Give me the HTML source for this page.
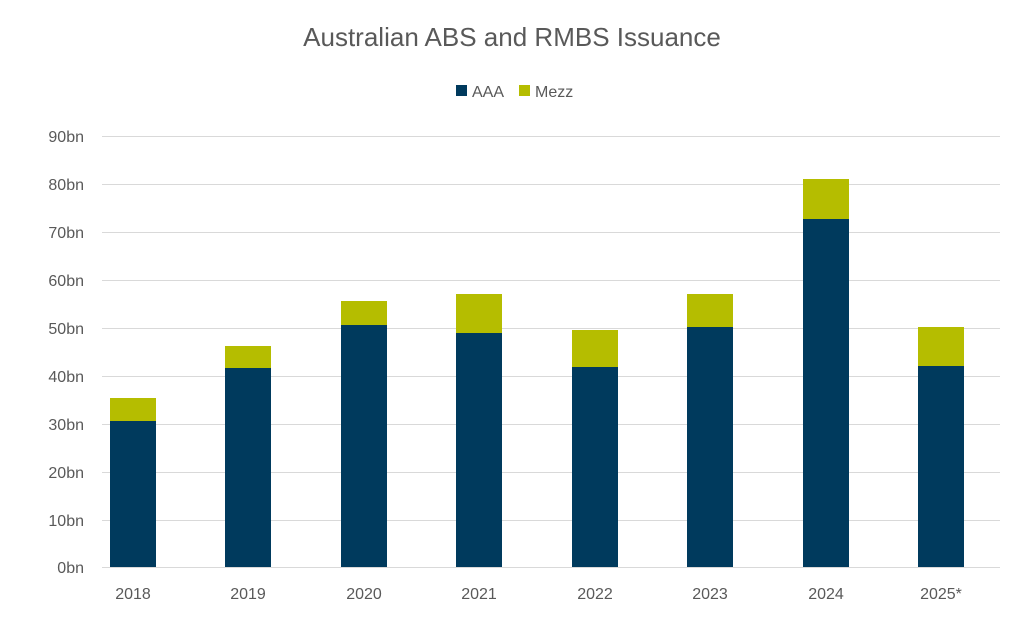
<!DOCTYPE html>
<html><head><meta charset="utf-8"><style>
body{margin:0;background:#fff;}
svg{display:block;font-family:"Liberation Sans",sans-serif;}
</style></head><body>
<svg width="1024" height="620" viewBox="0 0 1024 620">
<rect width="1024" height="620" fill="#fff"/>
<text x="512" y="46" text-anchor="middle" font-size="26" fill="#595959">Australian ABS and RMBS Issuance</text>
<rect x="456" y="85" width="11" height="11" fill="#003a5d"/>
<text x="472" y="97" font-size="16" fill="#595959">AAA</text>
<rect x="519" y="85" width="11" height="11" fill="#b5bd00"/>
<text x="535" y="97" font-size="16" fill="#595959">Mezz</text>
<g stroke="#d9d9d9" stroke-width="1">
<line x1="102" x2="1000" y1="136.5" y2="136.5"/>
<line x1="102" x2="1000" y1="184.5" y2="184.5"/>
<line x1="102" x2="1000" y1="232.5" y2="232.5"/>
<line x1="102" x2="1000" y1="280.5" y2="280.5"/>
<line x1="102" x2="1000" y1="328.5" y2="328.5"/>
<line x1="102" x2="1000" y1="376.5" y2="376.5"/>
<line x1="102" x2="1000" y1="424.5" y2="424.5"/>
<line x1="102" x2="1000" y1="472.5" y2="472.5"/>
<line x1="102" x2="1000" y1="520.5" y2="520.5"/>
<line x1="102" x2="1000" y1="567.5" y2="567.5"/>
</g>
<g font-size="16" fill="#595959" text-anchor="end">
<text x="84" y="142">90bn</text>
<text x="84" y="190">80bn</text>
<text x="84" y="238">70bn</text>
<text x="84" y="286">60bn</text>
<text x="84" y="334">50bn</text>
<text x="84" y="382">40bn</text>
<text x="84" y="430">30bn</text>
<text x="84" y="478">20bn</text>
<text x="84" y="526">10bn</text>
<text x="84" y="573">0bn</text>
</g>
<g fill="#b5bd00">
<rect x="110" y="398" width="46" height="23"/>
<rect x="225" y="346" width="46" height="22"/>
<rect x="341" y="301" width="46" height="24"/>
<rect x="456" y="294" width="46" height="39"/>
<rect x="572" y="330" width="46" height="37"/>
<rect x="687" y="294" width="46" height="33"/>
<rect x="803" y="179" width="46" height="40"/>
<rect x="918" y="327" width="46" height="39"/>
</g>
<g fill="#003a5d">
<rect x="110" y="421" width="46" height="146"/>
<rect x="225" y="368" width="46" height="199"/>
<rect x="341" y="325" width="46" height="242"/>
<rect x="456" y="333" width="46" height="234"/>
<rect x="572" y="367" width="46" height="200"/>
<rect x="687" y="327" width="46" height="240"/>
<rect x="803" y="219" width="46" height="348"/>
<rect x="918" y="366" width="46" height="201"/>
</g>
<g font-size="16" fill="#595959" text-anchor="middle">
<text x="133" y="599">2018</text>
<text x="248" y="599">2019</text>
<text x="364" y="599">2020</text>
<text x="479" y="599">2021</text>
<text x="595" y="599">2022</text>
<text x="710" y="599">2023</text>
<text x="826" y="599">2024</text>
<text x="941" y="599">2025*</text>
</g>
</svg>
</body></html>
